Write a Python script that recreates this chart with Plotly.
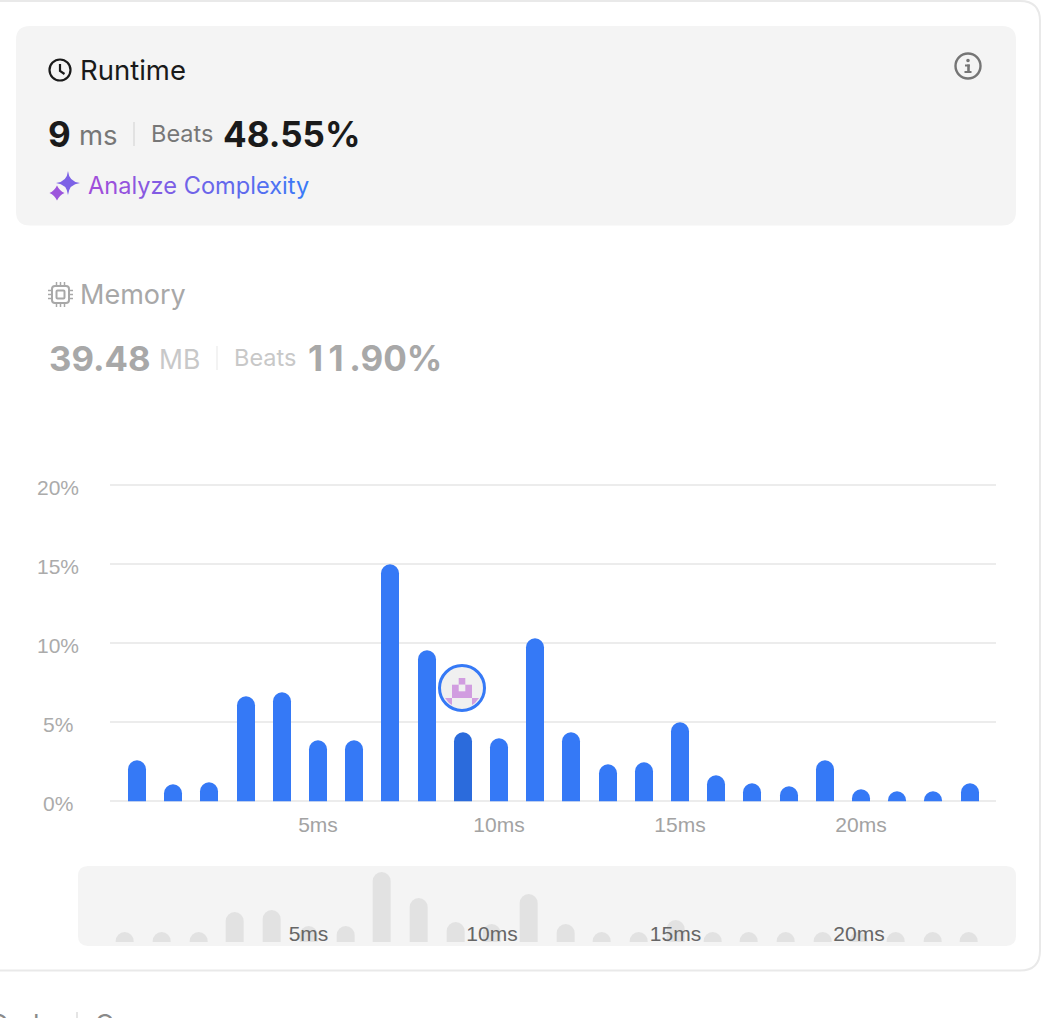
import plotly.graph_objects as go

W, H = 1042, 1018

# Runtime distribution: share of submissions (%) per runtime bucket (ms)
runtime_ms = list(range(24))
share_pct = [2.58, 1.06, 1.18, 6.63, 6.88, 3.85, 3.85, 14.98, 9.54, 4.35, 3.97, 10.3,
             4.35, 2.3, 2.42, 4.98, 1.62, 1.14, 0.9, 2.55, 0.76, 0.62, 0.62, 1.14]
# Overview strip keeps small buckets visible, so its bars have their own heights
overview_pct = [2.14, 2.14, 2.14, 6.43, 6.85, 3.43, 3.43, 15.0, 9.5, 4.3, 3.85, 10.3,
                3.9, 2.14, 2.14, 4.7, 2.14, 2.14, 2.14, 2.14, 2.14, 2.14, 2.14, 2.14]
current_ms = 9

y_ticks = [0, 5, 10, 15, 20]
y_labels = ["0%", "5%", "10%", "15%", "20%"]
x_ticks = [5, 10, 15, 20]
x_labels = ["5ms", "10ms", "15ms", "20ms"]

BLUE = "#3579f6"
BLUE_DARK = "#2b6bdc"
GRID = "#ececec"
PANEL = "#f4f4f4"
INTER = "Inter, sans-serif"
HELV = "Liberation Sans, Arial, sans-serif"


def fx(x):
    return x / W


def fy(y):
    return 1 - y / H


def path(*segs):
    """Build an SVG path in paper units from (command, x, y, x, y, ...) pixel tuples."""
    out = []
    for s in segs:
        cmd, nums = s[0], s[1:]
        pts = []
        for i in range(0, len(nums), 2):
            pts.append(f"{fx(nums[i]):.6f},{fy(nums[i + 1]):.6f}")
        out.append(cmd + " ".join(pts))
    return " ".join(out)


def round_rect(x0, y0, x1, y1, r):
    return path(("M", x0 + r, y0), ("L", x1 - r, y0), ("Q", x1, y0, x1, y0 + r),
                ("L", x1, y1 - r), ("Q", x1, y1, x1 - r, y1), ("L", x0 + r, y1),
                ("Q", x0, y1, x0, y1 - r), ("L", x0, y0 + r), ("Q", x0, y0, x0 + r, y0)) + " Z"


def star(cx, cy, r, k=0.22):
    d = r * k
    return path(("M", cx, cy - r), ("Q", cx + d * 0.4, cy - d * 0.4, cx + r, cy),
                ("Q", cx + d * 0.4, cy + d * 0.4, cx, cy + r),
                ("Q", cx - d * 0.4, cy + d * 0.4, cx - r, cy),
                ("Q", cx - d * 0.4, cy - d * 0.4, cx, cy - r)) + " Z"


def shape_path(d, fill="rgba(0,0,0,0)", line=None, width=0, layer="below"):
    return dict(type="path", xref="paper", yref="paper", path=d, fillcolor=fill,
                line=dict(color=line or "rgba(0,0,0,0)", width=width), layer=layer)


def circle(cx, cy, r, fill="rgba(0,0,0,0)", line=None, width=0, layer="below"):
    return dict(type="circle", xref="paper", yref="paper",
                x0=fx(cx - r), x1=fx(cx + r), y0=fy(cy + r), y1=fy(cy - r),
                fillcolor=fill, line=dict(color=line or "rgba(0,0,0,0)", width=width), layer=layer)


def rect(x0, y0, x1, y1, fill, layer="below"):
    return dict(type="rect", xref="paper", yref="paper", x0=fx(x0), x1=fx(x1),
                y0=fy(y1), y1=fy(y0), fillcolor=fill, line=dict(width=0), layer=layer)


def seg(x0, y0, x1, y1, color, width):
    return dict(type="line", xref="paper", yref="paper", x0=fx(x0), x1=fx(x1),
                y0=fy(y0), y1=fy(y1), line=dict(color=color, width=width), layer="below")


def label(x, y, text, size, color, family=INTER, bold=False, anchor="left"):
    if bold:
        text = f"<b>{text}</b>"
    return dict(xref="paper", yref="paper", x=fx(x), y=fy(y), text=text, showarrow=False,
                xanchor=anchor, yanchor="middle", borderpad=0,
                font=dict(family=family, size=size, color=color))


def gradient_text(text, start, end):
    """Colour each letter along a left-to-right gradient."""
    parts = []
    n = max(len(text) - 1, 1)
    for i, ch in enumerate(text):
        t = i / n
        rgb = [round(a + (b - a) * t) for a, b in zip(start, end)]
        parts.append(f'<span style="color:rgb({rgb[0]},{rgb[1]},{rgb[2]})">{ch}</span>')
    return "".join(parts)


shapes = [
    # card and panels
    shape_path(round_rect(-20, 1, 1040, 970.5, 20), fill="#ffffff", line="#e9e9e9", width=2),
    shape_path(round_rect(16, 26, 1016, 225.5, 14), fill=PANEL),
    shape_path(round_rect(78, 866, 1016, 946, 10), fill=PANEL),
    # clock icon
    circle(60, 70, 10.5, line="#1a1a1a", width=2.2),
    shape_path(path(("M", 60, 64), ("L", 60, 71), ("L", 64.5, 74)), line="#1a1a1a", width=2.2),
    # dividers
    seg(134, 122, 134, 146, "#dcdcdc", 1.5),
    seg(217, 346, 217, 370, "#efefef", 1.5),
    seg(77, 1012, 77, 1018, "#dddddd", 1.5),
    # sparkle icon
    shape_path(star(68, 183, 12), fill="#7c62e6"),
    shape_path(star(57, 193, 7.5, 0.8), fill="#9c55dc"),
    # info icon
    circle(968, 66, 12.5, line="#757575", width=2.4),
    circle(968, 60.5, 1.8, fill="#757575"),
    rect(965, 64.5, 969.8, 66.5, "#757575"),
    rect(967.2, 64.5, 969.8, 72, "#757575"),
    rect(964.5, 71, 971.5, 73, "#757575"),
    # chip icon
    shape_path(round_rect(52, 286, 69, 303, 3), line="#a8a8a8", width=2),
    shape_path(round_rect(56.5, 290.5, 64.5, 298.5, 1), line="#a8a8a8", width=2),
]
for offset in (-4, 0, 4):
    cx, cy = 60.5 + offset, 294.5 + offset
    shapes += [
        seg(cx, 282, cx, 286, "#a8a8a8", 1.5), seg(cx, 303, cx, 307, "#a8a8a8", 1.5),
        seg(48, cy, 52, cy, "#a8a8a8", 1.5), seg(69, cy, 73, cy, "#a8a8a8", 1.5),
    ]

# pinned avatar above the current bucket
AV = "#d19de0"
shapes += [
    circle(462, 688, 22.5, fill="#f0f0f0", layer="above"),
    rect(458.7, 678, 465.3, 684.7, AV, "above"),
    rect(452, 684.7, 472, 698, AV, "above"),
    rect(458.7, 684.7, 465.3, 691.3, "#f0f0f0", "above"),
    shape_path(path(("M", 445, 698), ("L", 452, 698), ("L", 452, 705), ("L", 449, 703)) + " Z",
               fill=AV, layer="above"),
    shape_path(path(("M", 472, 698), ("L", 479, 698), ("L", 475, 703), ("L", 472, 705)) + " Z",
               fill=AV, layer="above"),
    circle(462, 688, 22.5, line=BLUE, width=3, layer="above"),
]

HAIR = "\u200a"
annotations = [
    label(79, 70, "Runtime", 27.5, "#1a1a1a"),
    label(47, 133.5, "9", 35, "#1a1a1a", bold=True),
    label(77.5, 135, "ms", 27.5, "#777777"),
    label(150, 134, "Beats", 23.5, "#777777"),
    label(222, 133.5, "48.55%", 35, "#1a1a1a", bold=True),
    label(87, 185.3, gradient_text("Analyze Complexity", (160, 78, 218), (58, 122, 248)), 23.6, "#3a7af8"),
    label(79, 294, "Memory", 27, "#a8a8a8"),
    label(48, 358, "39.48", 34.7, "#a8a8a8", bold=True),
    label(157.5, 359, "MB", 26.5, "#c8c8c8"),
    label(233, 358, "Beats", 23.5, "#c8c8c8"),
    label(307, 358, f"1{HAIR}{HAIR}1{HAIR}{HAIR}.90%", 35, "#a8a8a8", bold=True),
    label(56, 1023, "Code", 26, "#8a8a8a", anchor="right"),
    label(94, 1023, "C++", 26, "#8a8a8a"),
]
# y tick labels are centred in their column
for v, t in zip(y_ticks, y_labels):
    annotations.append(dict(xref="paper", yref="y", x=fx(57.5), y=v, yshift=-2.5, text=t, showarrow=False,
                            xanchor="center", yanchor="middle",
                            font=dict(family=HELV, size=21, color="#ababab")))

bar_colors = [BLUE_DARK if ms == current_ms else BLUE for ms in runtime_ms]

fig = go.Figure()
fig.add_trace(go.Bar(x=runtime_ms, y=share_pct, width=0.497, xaxis="x", yaxis="y",
                     marker=dict(color=bar_colors, cornerradius=9, line=dict(width=0)),
                     showlegend=False, hoverinfo="skip"))
fig.add_trace(go.Bar(x=runtime_ms, y=overview_pct, width=0.49, xaxis="x2", yaxis="y2",
                     marker=dict(color="#e2e2e2", cornerradius=9, line=dict(width=0)),
                     showlegend=False, hoverinfo="skip"))

# The value axis runs slightly past 0 and 20 so the lines at both ends are drawn
PX_PER_PCT = 15.8
Y_ZERO_PX = 800.9
PAD = 0.1

fig.update_layout(
    width=W, height=H,
    margin=dict(l=0, r=0, t=0, b=0),
    paper_bgcolor="#ffffff",
    plot_bgcolor="rgba(0,0,0,0)",
    bargap=0,
    shapes=shapes,
    annotations=annotations,
    xaxis=dict(domain=[fx(110), fx(996)], range=[-0.746, 23.73], anchor="y",
               tickmode="array", tickvals=x_ticks, ticktext=x_labels,
               ticks="outside", ticklen=3, tickcolor="rgba(0,0,0,0)",
               tickfont=dict(family=HELV, size=21, color="#a3a3a3"),
               showgrid=False, zeroline=False, showline=False),
    yaxis=dict(domain=[fy(Y_ZERO_PX + PAD * PX_PER_PCT), fy(Y_ZERO_PX - (20 + PAD) * PX_PER_PCT)],
               range=[-PAD, 20 + PAD], anchor="x",
               tickmode="array", tickvals=y_ticks, showticklabels=False,
               showgrid=True, gridcolor=GRID, gridwidth=2,
               zeroline=True, zerolinecolor=GRID, zerolinewidth=2, showline=False, ticks=""),
    xaxis2=dict(domain=[fx(106.65), fx(987.45)], range=[-0.5, 23.5], anchor="free",
                position=fy(919),
                tickmode="array", tickvals=x_ticks, ticktext=x_labels,
                ticks="", tickfont=dict(family=HELV, size=21, color="#666666"),
                showgrid=False, zeroline=False, showline=False),
    yaxis2=dict(domain=[fy(942), fy(865)], range=[0, 16.5], anchor="x2",
                showticklabels=False, showgrid=False, zeroline=False, showline=False, ticks=""),
)

# Smooth the rounded bar tops, which plotly renders with crisp edges by default
smooth_bars = ("document.querySelectorAll('.bars path')"
               ".forEach(function(p){p.style.shapeRendering='auto';});")
fig.write_html("out.html", config=dict(displayModeBar=False), post_script=smooth_bars)
